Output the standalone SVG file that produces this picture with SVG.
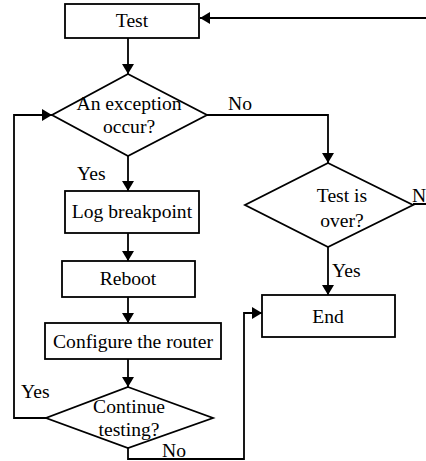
<svg xmlns="http://www.w3.org/2000/svg" width="426" height="461" viewBox="0 0 426 461">
<style>
.n{fill:#fff;stroke:#000;stroke-width:1.8}
.t{font-size:19.6px;fill:#000}
.m{text-anchor:middle}
.c{fill:none;stroke:#000;stroke-width:1.8}
</style>
<defs>
<marker id="a" markerUnits="userSpaceOnUse" markerWidth="12" markerHeight="12" viewBox="0 0 10 12" refX="10" refY="6" orient="auto">
<path d="M0,0 L10,6 L0,12 Z" fill="#000"/>
</marker>
</defs>
<g font-family="'Liberation Serif', 'Times New Roman', serif">
<g id="connectors">
<path class="c" d="M128,38 V74" marker-end="url(#a)"/>
<path class="c" d="M207,115 H328 V163" marker-end="url(#a)"/>
<path class="c" d="M128,156 V191" marker-end="url(#a)"/>
<path class="c" d="M128,233 V261" marker-end="url(#a)"/>
<path class="c" d="M128,297 V323" marker-end="url(#a)"/>
<path class="c" d="M128,359 V387" marker-end="url(#a)"/>
<path class="c" d="M46,418 H14 V115 H52" marker-end="url(#a)"/>
<path class="c" d="M128,448 V459 H244 V313 H262" marker-end="url(#a)"/>
<path class="c" d="M328,247 V295" marker-end="url(#a)"/>
<path class="c" d="M413,204 H440 V18 H200" marker-end="url(#a)"/>
<text class="t" x="228" y="110">No</text>
<text class="t" x="77" y="180">Yes</text>
<text class="t" x="412" y="202">N</text>
<text class="t" x="332" y="277">Yes</text>
<text class="t" x="21" y="398">Yes</text>
<text class="t" x="162" y="457">No</text>
</g>
<g id="test">
<rect class="n" x="65" y="4" width="134" height="34"/>
<text class="t m" x="132" y="27">Test</text>
</g>
<g id="exception">
<polygon class="n" points="128,74 207,115 128,156 52,115"/>
<text class="t m" x="129" y="110">An exception</text>
<text class="t m" x="129" y="133">occur?</text>
</g>
<g id="log">
<rect class="n" x="65" y="191" width="134" height="42"/>
<text class="t m" x="132" y="218">Log breakpoint</text>
</g>
<g id="reboot">
<rect class="n" x="62" y="261" width="133" height="36"/>
<text class="t m" x="128" y="285">Reboot</text>
</g>
<g id="configure">
<rect class="n" x="45" y="323" width="176" height="36"/>
<text class="t m" x="133" y="348">Configure the router</text>
</g>
<g id="continue">
<polygon class="n" points="128,387 213,418 128,448 46,418"/>
<text class="t m" x="129" y="413">Continue</text>
<text class="t m" x="129" y="436">testing?</text>
</g>
<g id="over">
<polygon class="n" points="328,163 413,205 328,247 245,205"/>
<text class="t m" x="342" y="202">Test is</text>
<text class="t m" x="342" y="227">over?</text>
</g>
<g id="end">
<rect class="n" x="262" y="295" width="133" height="42"/>
<text class="t m" x="328" y="323">End</text>
</g>
</g>
</svg>
